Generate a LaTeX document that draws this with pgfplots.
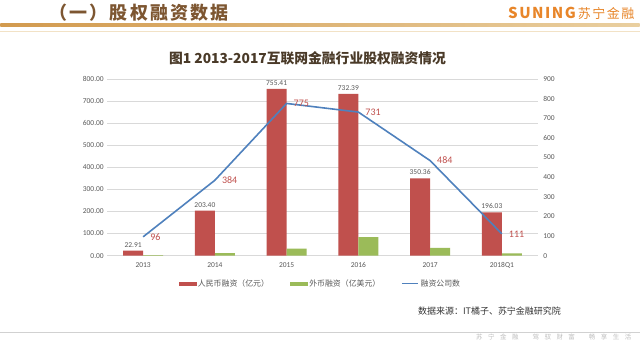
\documentclass[border=0pt]{standalone}
\usepackage{pgfplots}
\pgfplotsset{compat=1.18}
\usepackage{fontspec}
\setmainfont{Carlito}
\newfontfamily\cjk{Noto Sans CJK SC}
\definecolor{cred}{HTML}{C0504D}
\definecolor{cgreen}{HTML}{9BBB59}
\definecolor{cblue}{HTML}{4F81BD}
\definecolor{tickgray}{HTML}{595959}
\definecolor{gridgray}{HTML}{D9D9D9}
\definecolor{hdrbrown}{HTML}{7D5631}
\definecolor{titlebrown}{HTML}{4A3A28}
\definecolor{suning}{HTML}{E8862A}
\definecolor{goldA}{HTML}{D29A4E}
\definecolor{goldB}{HTML}{E9CFA0}
\begin{document}
\begin{tikzpicture}[x=1pt,y=1pt]
\path[fill=white] (0,0) rectangle (640,344);
% slide header
\node[anchor=west, text=hdrbrown, font=\cjk\bfseries\fontsize{18}{20}\selectfont\addfontfeature{LetterSpace=12}, inner sep=0pt] at (49,331.5) {（一）股权融资数据};
\node[anchor=east, text=suning, inner sep=0pt] at (635,330.5) {{\cjk\bfseries\fontsize{15}{16}\selectfont\addfontfeature{LetterSpace=10}SUNING}\hspace{2pt}{\cjk\fontsize{13}{14}\selectfont\addfontfeature{LetterSpace=12}苏宁金融}};
\shade[left color=goldA, right color=goldB] (0,317) rectangle (640,320);
\draw[goldB!60, line width=0.6pt] (0,312.5) -- (640,312.5);
% chart title
\node[text=titlebrown, font=\cjk\bfseries\fontsize{13.8}{15}\selectfont, inner sep=0pt] at (307.5,286) {图1 2013-2017互联网金融行业股权融资情况};
% source and footer
\node[anchor=west, text=black!80, font=\cjk\fontsize{9}{10}\selectfont, inner sep=0pt] at (418,33) {数据来源：IT橘子、苏宁金融研究院};
\draw[black!18, line width=0.8pt] (0,11.3) -- (640,11.3);
\node[anchor=east, text=black!25, font=\cjk\fontsize{6.5}{7}\selectfont, inner sep=0pt] at (632,7) {苏\hspace{5.5pt}宁\hspace{5.5pt}金\hspace{5.5pt}融\hspace{14pt}驾\hspace{5.5pt}驭\hspace{5.5pt}财\hspace{5.5pt}富\hspace{14pt}畅\hspace{5.5pt}享\hspace{5.5pt}生\hspace{5.5pt}活};

\begin{axis}[
  at={(107pt,88pt)}, anchor=south west, scale only axis,
  width=431pt, height=177pt,
  xmin=-0.5, xmax=5.5, ymin=0, ymax=800,
  ybar=0pt, bar width=20pt,
  xtick={0,1,2,3,4,5}, xticklabels={2013,2014,2015,2016,2017,2018Q1},
  ytick={0,100,...,800},
  yticklabel style={/pgf/number format/.cd, fixed, fixed zerofill, precision=2},
  ymajorgrids, grid style={gridgray, line width=0.6pt},
  axis line style={draw=none},
  major tick length=0pt,
  tick label style={font=\fontsize{7.5}{8}\selectfont, text=tickgray},
  xticklabel style={yshift=-3pt},
  /pgf/number format/assume math mode=true,
  clip=false,
]
\addplot[fill=cred, draw=none, nodes near coords,
  nodes near coords style={font=\fontsize{7.5}{8}\selectfont, text=tickgray, /pgf/number format/.cd, fixed, fixed zerofill, precision=2, assume math mode=true}]
  coordinates {(0,22.91) (1,203.40) (2,755.41) (3,732.39) (4,350.36) (5,196.03)};
\addplot[fill=cgreen, draw=none]
  coordinates {(0,3) (1,12) (2,32) (3,84.5) (4,35) (5,10)};
\end{axis}

\begin{axis}[
  at={(107pt,88pt)}, anchor=south west, scale only axis,
  width=431pt, height=177pt,
  xmin=-0.5, xmax=5.5, ymin=0, ymax=900,
  axis y line*=right, axis x line=none,
  ytick={0,100,...,900},
  axis line style={draw=none},
  major tick length=0pt,
  tick label style={font=\fontsize{7.5}{8}\selectfont, text=tickgray},
  yticklabel style={xshift=2pt},
  /pgf/number format/assume math mode=true,
  clip=false,
  legend columns=3,
  legend style={at={(0.495,-0.158)}, anchor=center, draw=none, fill=none,
    font=\cjk\fontsize{7.9}{9}\selectfont, text=tickgray,
    /tikz/every even column/.append style={column sep=19pt},
    inner sep=0pt},
]
\addlegendimage{legend image code/.code={\fill[cred] (0pt,-1.8pt) rectangle (17pt,1.8pt);}}
\addlegendentry{人民币融资（亿元）}
\addlegendimage{legend image code/.code={\fill[cgreen] (0pt,-1.8pt) rectangle (17pt,1.8pt);}}
\addlegendentry{外币融资（亿美元）}
\addplot[cblue, line width=1.6pt, mark=none, nodes near coords,
  nodes near coords style={anchor=west, xshift=3pt, text=cred, font=\fontsize{10}{11}\selectfont, /pgf/number format/assume math mode=true},
  legend image code/.code={\draw[cblue, line width=1.4pt] (0pt,0pt) -- (16pt,0pt);}]
  coordinates {(0,96) (1,384) (2,775) (3,731) (4,484) (5,111)};
\addlegendentry{融资公司数}
\end{axis}
\end{tikzpicture}
\end{document}
